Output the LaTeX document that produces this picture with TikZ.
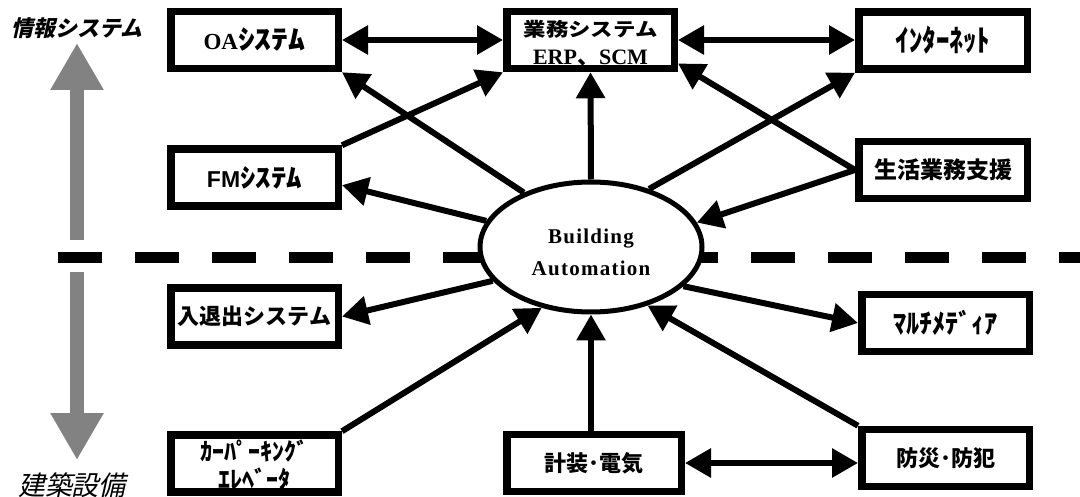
\documentclass[tikz,border=0pt]{standalone}
\usepackage{fontspec}
\usepackage{graphicx}
\usetikzlibrary{arrows.meta,shapes.geometric}
\newfontfamily\jp{Noto Sans CJK JP}
\newfontfamily\jpsl{Noto Sans CJK JP}[FakeSlant=0.22]
\newfontfamily\serb{Liberation Serif}
\newfontfamily\sanb{Liberation Sans}
\newfontfamily\bafont{Liberation Serif}[LetterSpace=6]
% bold Japanese text at a given size and line distance
\newcommand\jpsz[2]{\jp\bfseries\fontsize{#1}{#2}\selectfont}
% horizontally stretched text
\newcommand\wide[2]{\scalebox{#1}[1]{#2}}
\begin{document}
\begin{tikzpicture}[x=1pt,y=-1pt,
  box/.style={draw, line width=7.5pt, minimum width=167.5pt, minimum height=57pt,
    inner sep=0pt, fill=white, align=center},
  arr/.style={line width=6pt, -{Triangle[length=26pt,width=28pt]}},
  dbl/.style={line width=6pt, {Triangle[length=26pt,width=28pt]}-{Triangle[length=26pt,width=28pt]}},
  axis/.style={line width=14pt, draw={rgb,255:red,130;green,130;blue,130},
    -{Triangle[length=47pt,width=50pt]}}]
% canvas
\fill[white] (0,0) rectangle (1080,497);
\useasboundingbox (0,0) rectangle (1080,497);

% boundary between information systems and building equipment
\draw[line width=11pt, dash pattern=on 44pt off 33pt] (58,258) -- (1080,258);

% vertical direction arrows
\coordinate (upfrom) at (77,240);
\coordinate (upto) at (77,43);
\coordinate (downfrom) at (77,272);
\coordinate (downto) at (77,460);
\draw[axis] (upfrom) -- (upto);
\draw[axis] (downfrom) -- (downto);
\node[font=\jpsl\bfseries\fontsize{22}{22}\selectfont] (infolbl) at (77,28) {情報システム};
\node[font=\jpsl\fontsize{27}{27}\selectfont] (buildlbl) at (72,485) {建築設備};

% central node (multi-line text boxes sit on their last baseline)
\node[ellipse, draw, line width=5pt, fill=white, minimum width=222pt, minimum height=130pt,
  inner sep=0pt, align=center, text height=58pt, text depth=0pt,
  font=\bafont\bfseries\fontsize{21}{32}\selectfont] (BA) at (591,247)
  {Building\\Automation};

% upper boxes
\node[box, font=\jpsz{27}{27}] (OA) at (254.5,40)
  {{\serb\bfseries\fontsize{23}{23}\selectfont OA}\wide{1.25}{ｼｽﾃﾑ}};
\node[box, font=\jpsz{19}{28}, text height=50pt, text depth=0pt] (Gyomu) at (590.5,40)
  {\wide{1.18}{業務システム}\\{\serb\fontsize{22}{28}\selectfont ERP{\jp 、}SCM}};
\node[box, minimum width=168.5pt, font=\jpsz{30}{30}] (Inet) at (943,40.5)
  {\wide{0.9}{ｲﾝﾀｰﾈｯﾄ}};
\node[box, font=\jpsz{26}{26}] (FM) at (254.5,177.5)
  {{\sanb\bfseries\fontsize{23}{23}\selectfont FM}\wide{1.19}{ｼｽﾃﾑ}};
\node[box, minimum width=168.5pt, font=\jpsz{23}{23}] (Seikatsu) at (943,170) {生活業務支援};

% lower boxes
\node[box, font=\jpsz{22}{22}] (Nyutai) at (254.5,316.5) {入退出システム};
\node[box, font=\jpsz{27}{27}] (Multi) at (945.5,323) {\wide{0.97}{ﾏﾙﾁﾒﾃﾞｨｱ}};
\node[box, font=\jpsz{24}{28}, text height=50pt, text depth=0pt] (Car) at (254.5,463.5)
  {ｶｰﾊﾟｰｷﾝｸﾞ\\ｴﾚﾍﾞｰﾀ};
\node[box, minimum width=174.5pt, font=\jpsz{22}{22}] (Keiso) at (594,463) {計装･電気};
\node[box, font=\jpsz{22}{22}] (Bousai) at (945.5,458) {防災･防犯};

% connectors
\draw[dbl] (OA.east) -- (Gyomu.west);
\draw[dbl] (Gyomu.east) -- (Gyomu.east -| Inet.west);
\draw[arr] (BA.north) -- (Gyomu.south);
\draw[arr] (FM.north east) -- (Gyomu.south west);
\draw[arr] (BA.141) -- (OA.south east);
\draw[arr] (BA.166) -- (FM.-5);
\draw[arr] (BA.45) -- (Inet.south west);
\draw[arr] (Seikatsu.west) -- (Gyomu.-15);
\draw[arr] (Seikatsu.west) -- (BA.13);
\draw[arr] (BA.199) -- (Nyutai.east);
\draw[arr] (Car.north east) -- (BA.231);
\draw[arr] (Keiso.north -| BA.south) -- (BA.south);
\draw[arr] (Bousai.north west) -- (BA.314);
\draw[arr] (BA.337) -- (Multi.west);
\draw[dbl] (Keiso.east) -- (Keiso.east -| Bousai.west);
\end{tikzpicture}
\end{document}
